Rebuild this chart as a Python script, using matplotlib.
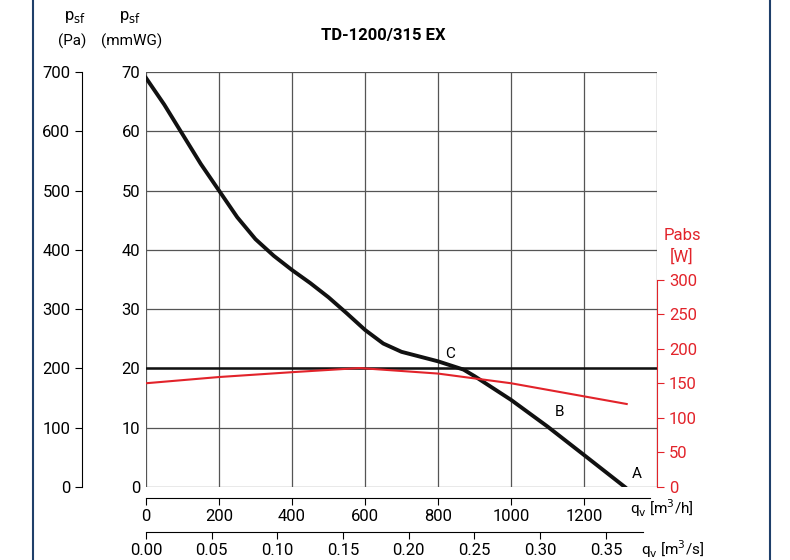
import matplotlib
matplotlib.use("Agg")
import matplotlib.pyplot as plt
import numpy as np

plt.rcParams['font.family'] = ['Roboto', 'DejaVu Sans']
plt.rcParams['font.size'] = 11

q_psf = [0, 50, 100, 150, 200, 250, 300, 350, 400, 450, 500, 550, 600, 650, 700, 750, 800, 870, 900, 1000, 1100, 1200, 1312]
psf = [69, 64.5, 59.5, 54.5, 50, 45.5, 41.8, 39, 36.6, 34.4, 32, 29.3, 26.5, 24.2, 22.8, 22, 21.2, 19.8, 18.7, 14.7, 10.2, 5.4, 0]
q_pabs = [0, 200, 400, 585, 800, 1000, 1317]
pabs = [150, 159, 166, 172, 164, 150, 120]
labels_pts = [("C", 820, 21.8), ("B", 1120, 12.0), ("A", 1330, 1.5)]
qh_ticks = list(range(0, 1201, 200))
qs_ticks = [0.00, 0.05, 0.10, 0.15, 0.20, 0.25, 0.30, 0.35]

fig = plt.figure(figsize=(7.9, 5.6), dpi=100)
W, H = 790, 560
ax = fig.add_axes([146/W, (H-487)/H, 511/W, 415/H])
ax.set_xlim(0, 1400); ax.set_ylim(0, 70)
ax.set_xticks(range(0, 1401, 200)); ax.set_yticks(range(0, 71, 10))
ax.grid(True, color='#555555', lw=0.9)
for s in ax.spines.values(): s.set_visible(False)
ax.tick_params(axis='x', length=0, labelbottom=False)
ax.tick_params(axis='y', length=0, pad=4, labelsize=12)

ax.plot(q_psf, psf, color='#111111', lw=2.8, zorder=4)
ax.axhline(20, color='#111111', lw=1.8, zorder=3)
for t, x, y in labels_pts:
    ax.text(x, y, t, fontsize=11, zorder=5)

ax2 = ax.twinx()
ax2.set_ylim(0, 700)
ax2.yaxis.tick_left(); ax2.yaxis.set_label_position('left')
for s in ['top', 'right', 'bottom']: ax2.spines[s].set_visible(False)
ax2.spines['left'].set_position(('outward', 46))
ax2.set_yticks(range(0, 701, 100))
ax2.tick_params(axis='y', direction='out', length=5, labelsize=12)

ax3 = ax.twinx()
ax3.set_ylim(0, 600)
for s in ['top', 'left', 'bottom']: ax3.spines[s].set_visible(False)
ax3.spines['right'].set_color('#e2232a')
ax3.spines['right'].set_bounds(0, 300)
ax3.set_yticks(range(0, 301, 50))
ax3.tick_params(axis='y', colors='#e2232a', direction='out', length=5, labelsize=12)
ax3.plot(q_pabs, pabs, color='#e2232a', lw=1.5, zorder=3)
fig.text(682/W, 1-240/H, 'Pabs', color='#e2232a', ha='center', fontsize=12)
fig.text(682/W, 1-262/H, '[W]', color='#e2232a', ha='center', fontsize=12)

def bottom_axis(ypix, xmax, bound, ticks, labels):
    b = fig.add_axes([146/W, (H-ypix)/H, 511/W, 0.0001])
    b.patch.set_visible(False)
    b.set_xlim(0, xmax)
    for s in ['top', 'left', 'right']: b.spines[s].set_visible(False)
    b.spines['bottom'].set_bounds(0, bound)
    b.set_yticks([])
    b.set_xticks(ticks); b.set_xticklabels(labels)
    b.tick_params(axis='x', direction='out', length=5, pad=3, labelsize=12)
    return b

bottom_axis(498, 1400, 1380, qh_ticks, [str(v) for v in qh_ticks])
bottom_axis(532, 1400/3600, 0.378, qs_ticks, [f"{v:.2f}" for v in qs_ticks])

fig.text(662/W, 1-508/H, 'q$_\\mathrm{v}$ [m$^3$/h]', fontsize=11, ha='center', va='center')
fig.text(673/W, 1-549/H, 'q$_\\mathrm{v}$ [m$^3$/s]', fontsize=11, ha='center', va='center')
fig.text(75/W, 1-20/H, 'p$_\\mathrm{sf}$', fontsize=12, ha='center')
fig.text(72/W, 1-46/H, '(Pa)', fontsize=11, ha='center')
fig.text(130/W, 1-20/H, 'p$_\\mathrm{sf}$', fontsize=12, ha='center')
fig.text(132/W, 1-46/H, '(mmWG)', fontsize=11, ha='center')
fig.text(383/W, 1-40/H, 'TD-1200/315 EX', fontsize=12, fontweight='bold', ha='center')
fig.add_artist(plt.Line2D([33/W, 33/W], [0, 1], color='#1f3f6a', lw=1.5))
fig.add_artist(plt.Line2D([770/W, 770/W], [0, 1], color='#1f3f6a', lw=1.5))
fig.savefig('out.png', dpi=100)
